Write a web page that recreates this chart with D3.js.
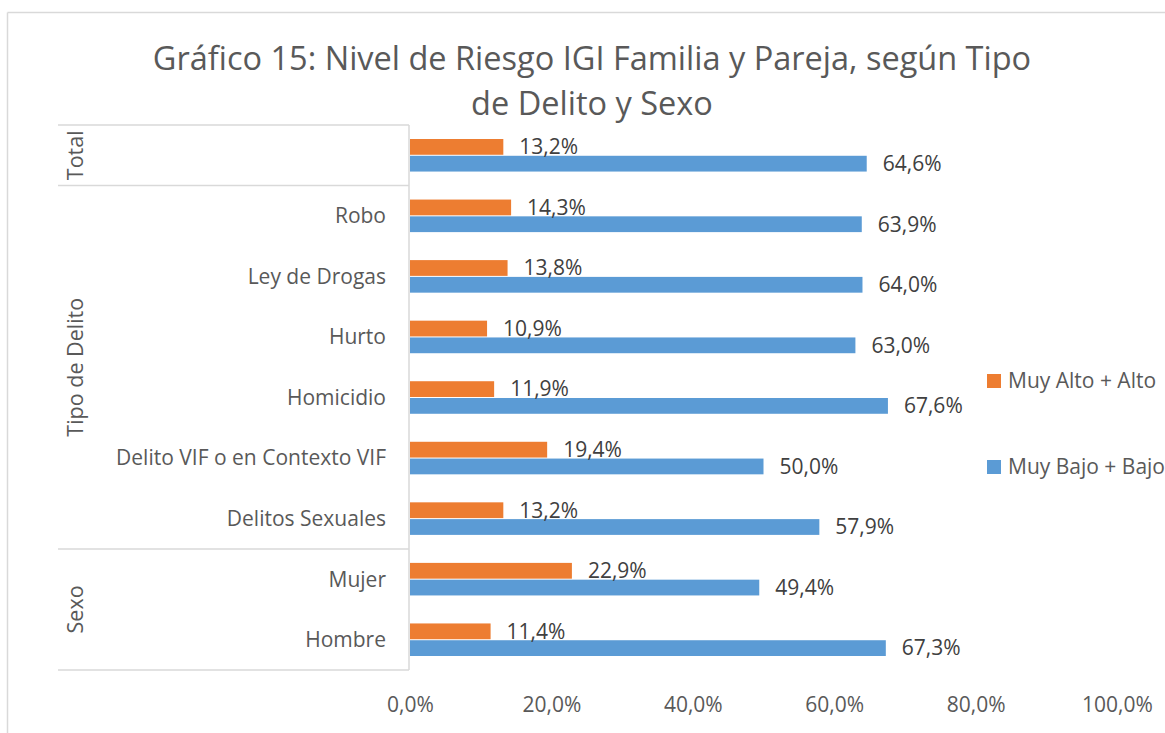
<!DOCTYPE html>
<html>
<head>
<meta charset="utf-8">
<script src="https://cdn.jsdelivr.net/npm/d3@7"></script>
<style>
  body { margin: 0; background: #fff; }
  svg { font-family: "Open Sans", "Noto Sans", sans-serif; }
</style>
</head>
<body>
<svg id="chart" width="1165" height="733"></svg>
<script>
// data
var categories = ['Total', 'Robo', 'Ley de Drogas', 'Hurto', 'Homicidio',
  'Delito VIF o en Contexto VIF', 'Delitos Sexuales', 'Mujer', 'Hombre'];
var groups = [
  { name: 'Total', first: 0, last: 0, showCat: false },
  { name: 'Tipo de Delito', first: 1, last: 6, showCat: true },
  { name: 'Sexo', first: 7, last: 8, showCat: true }
];
var series = ['Muy Alto + Alto', 'Muy Bajo + Bajo'];
var altoValues = [13.2, 14.3, 13.8, 10.9, 11.9, 19.4, 13.2, 22.9, 11.4];
var bajoValues = [64.6, 63.9, 64.0, 63.0, 67.6, 50.0, 57.9, 49.4, 67.3];
var xTicks = [0, 20, 40, 60, 80, 100];
var colors = ['#ED7D31', '#5B9BD5'];

var fmt = function (v) { return d3.format('.1f')(v).replace('.', ',') + '%'; };

var svg = d3.select('#chart');
var margin = { top: 125, left: 409, bottom: 670, right: 1117 };
var labelSize = '21px';

// outer chart border (only top and left visible)
svg.append('line').attr('x1', 7.5).attr('x2', 1165).attr('y1', 12.5).attr('y2', 12.5)
  .attr('stroke', '#D9D9D9').attr('stroke-width', 1.5);
svg.append('line').attr('x1', 7.5).attr('x2', 7.5).attr('y1', 12.5).attr('y2', 733)
  .attr('stroke', '#D9D9D9').attr('stroke-width', 1.5);

// title
var title = svg.append('text')
  .attr('text-anchor', 'middle')
  .attr('fill', '#595959')
  .style('font-size', '32.5px');
title.append('tspan').attr('x', 592).attr('y', 70)
  .text('Gráfico 15: Nivel de Riesgo IGI Familia y Pareja, según Tipo');
title.append('tspan').attr('x', 592).attr('y', 115)
  .text('de Delito y Sexo');

var xScale = d3.scaleLinear().domain([0, 100]).range([margin.left + 1, margin.right]);

var yScale = d3.scaleBand()
  .domain(categories)
  .range([margin.top, margin.bottom]);

var inner = d3.scaleBand()
  .domain(series)
  .range([14, yScale.bandwidth() - 14])
  .paddingInner(0.06);

// category-axis grid lines
var gridColor = '#D9D9D9';
svg.append('line')
  .attr('x1', margin.left).attr('x2', margin.left)
  .attr('y1', margin.top).attr('y2', margin.bottom)
  .attr('stroke', gridColor).attr('stroke-width', 1.5);

var bounds = [margin.top];
groups.forEach(function (g) {
  bounds.push(yScale(categories[g.last]) + yScale.bandwidth());
});
bounds.forEach(function (b) {
  svg.append('line')
    .attr('x1', 58).attr('x2', margin.left)
    .attr('y1', b).attr('y2', b)
    .attr('stroke', gridColor).attr('stroke-width', 1.5);
});

// group labels
groups.forEach(function (g) {
  var y0 = yScale(categories[g.first]);
  var y1 = yScale(categories[g.last]) + yScale.bandwidth();
  var cy = (y0 + y1) / 2;
  svg.append('text')
    .attr('transform', 'translate(83,' + cy + ') rotate(-90)')
    .attr('text-anchor', 'middle')
    .attr('fill', '#595959')
    .style('font-size', '21.5px')
    .text(g.name);
});

// category labels
categories.forEach(function (c, i) {
  var g = groups.find(function (g) { return i >= g.first && i <= g.last; });
  if (!g.showCat) return;
  svg.append('text')
    .attr('x', 386)
    .attr('y', yScale(c) + yScale.bandwidth() / 2)
    .attr('dy', '0.35em')
    .attr('text-anchor', 'end')
    .attr('fill', '#595959')
    .style('font-size', labelSize)
    .text(c);
});

// bars
var rows = categories.map(function (c, i) {
  return { cat: c, values: [altoValues[i], bajoValues[i]] };
});

var rowG = svg.selectAll('.row')
  .data(rows)
  .enter()
  .append('g')
  .attr('class', 'row')
  .attr('transform', function (d) { return 'translate(0,' + yScale(d.cat) + ')'; });

rowG.selectAll('rect')
  .data(function (d) { return d.values.map(function (v, j) { return { s: series[j], v: v, j: j }; }); })
  .enter()
  .append('rect')
  .attr('x', xScale(0))
  .attr('y', function (d) { return inner(d.s); })
  .attr('width', function (d) { return xScale(d.v) - xScale(0); })
  .attr('height', inner.bandwidth())
  .attr('fill', function (d) { return colors[d.j]; });

rowG.selectAll('.lbl')
  .data(function (d) { return d.values.map(function (v, j) { return { s: series[j], v: v, j: j }; }); })
  .enter()
  .append('text')
  .attr('class', 'lbl')
  .attr('x', function (d) { return xScale(d.v) + 16; })
  .attr('y', function (d) { return inner(d.s) + inner.bandwidth() / 2; })
  .attr('dy', '0.35em')
  .attr('fill', '#404040')
  .style('font-size', labelSize)
  .text(function (d) { return fmt(d.v); });

// x axis labels (no line, no ticks)
var xAxis = svg.append('g')
  .attr('transform', 'translate(0,' + margin.bottom + ')')
  .call(d3.axisBottom(xScale).tickValues(xTicks).tickSize(0).tickPadding(27).tickFormat(fmt));
xAxis.select('.domain').remove();
xAxis.selectAll('text')
  .attr('fill', '#595959')
  .style('font-size', labelSize)
  .style('font-family', '"Open Sans", "Noto Sans", sans-serif');

// legend
var legend = svg.selectAll('.legend')
  .data(series)
  .enter()
  .append('g')
  .attr('class', 'legend')
  .attr('transform', function (d, i) { return 'translate(987,' + (381 + i * 86) + ')'; });
legend.append('rect')
  .attr('x', 0).attr('y', -7)
  .attr('width', 14).attr('height', 14)
  .attr('fill', function (d, i) { return colors[i]; });
legend.append('text')
  .attr('x', 21).attr('y', 0).attr('dy', '0.35em')
  .attr('fill', '#595959')
  .style('font-size', labelSize)
  .text(function (d) { return d; });
</script>
</body>
</html>
